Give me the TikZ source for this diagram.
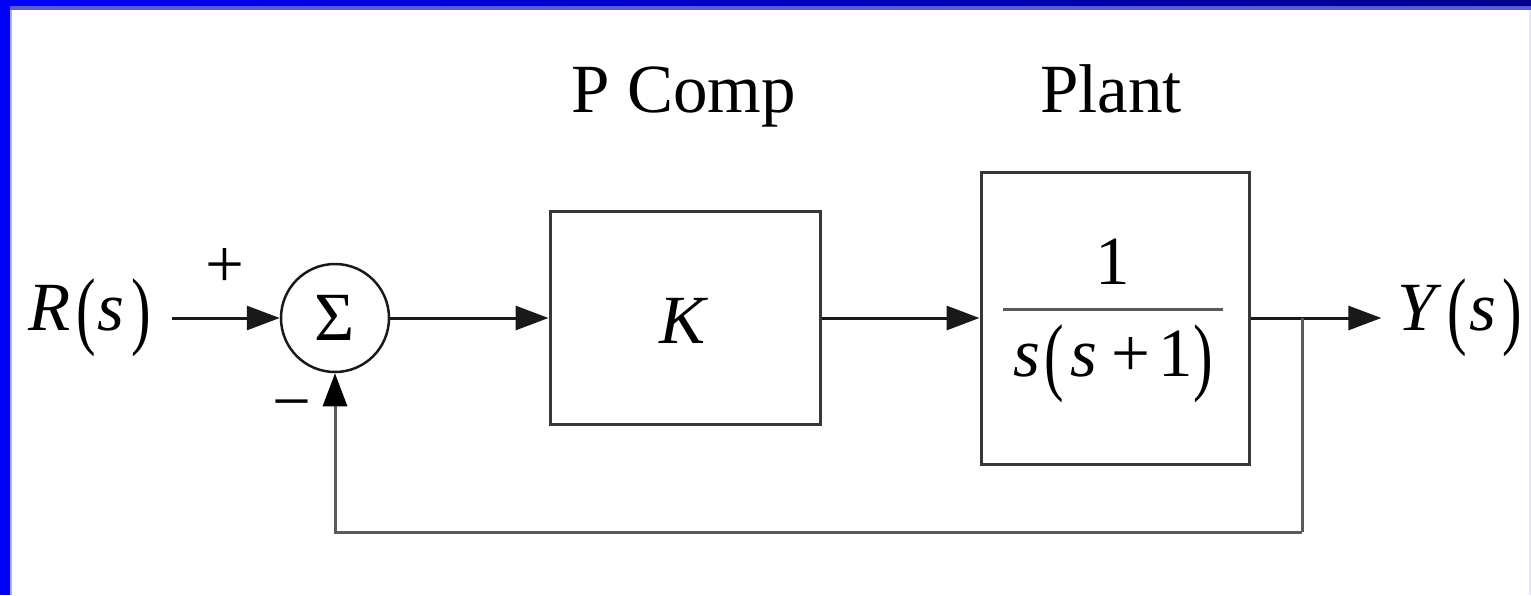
\documentclass[tikz,border=0pt]{standalone}
\usepackage{fontspec}
\setmainfont{Liberation Serif}
\usetikzlibrary{arrows.meta}
\definecolor{lineblk}{RGB}{25,25,25}
\definecolor{boxgray}{RGB}{55,55,55}
\definecolor{fbgray}{RGB}{90,90,90}
\definecolor{bandblue}{RGB}{0,0,245}
\definecolor{banddark}{RGB}{0,0,140}
\definecolor{bandmid}{RGB}{90,90,215}
\definecolor{bandlight}{RGB}{170,170,255}
\definecolor{bandpale}{RGB}{228,228,250}
\newcommand{\bigp}[1]{\raisebox{-0.12em}{\scalebox{0.85}[1.25]{#1}}}
\begin{document}
\begin{tikzpicture}[x=1pt,y=-1pt,
  txt/.style={font=\fontsize{69}{80}\selectfont, inner sep=0pt},
  blockbox/.style={draw=boxgray, line width=3pt, fill=white, inner sep=0pt},
  sumnode/.style={draw=lineblk, circle, line width=2.5pt, minimum size=108pt, inner sep=0pt, font=\fontsize{69}{80}\selectfont},
  arr/.style={draw=lineblk, line width=3pt, -{Triangle[length=33pt,width=24pt]}},
  fbline/.style={draw=fbgray, line width=3pt},
  fbarr/.style={draw=fbgray, line width=3pt, -{Triangle[length=33pt,width=24pt,color=black]}}
]
% background and frame
\useasboundingbox (0,0) rectangle (1531,595);
\fill[bandblue] (0,0) rectangle (1531,595);
\shade[left color=bandblue, right color=banddark] (0,0) rectangle (1531,6);
\fill[white] (12,10) rectangle (1529,595);
\fill[bandmid] (10,6) rectangle (1531,10);
\fill[bandlight] (10,10) rectangle (12,595);
\fill[bandpale] (1529,10) rectangle (1531,595);

% labels above blocks
\node[txt, anchor=base] (lblp) at (684,112) {P Comp};
\node[txt, anchor=base] (lblplant) at (1111,112) {Plant};

% nodes
\node[txt, anchor=center] (R) at (90,318) {\textit{R}\kern0.08em\bigp{(}\kern0.03em\textit{s}\kern0.1em\bigp{)}};
\node[sumnode] (sum) at (335,318) {\raisebox{-0.05em}{Σ}};
\node[blockbox, minimum width=270pt, minimum height=213pt] (K) at (685,318) {};
\node[txt] (Ktxt) at (684,321) {\textit{K}};
\node[blockbox, minimum width=268pt, minimum height=292pt] (plant) at (1115,318) {};
\node[txt] (num) at (1113,262) {1};
\node[txt] (den) at (1113,364) {\textit{s}\kern0.06em\bigp{(}\kern0.1em\textit{s}\kern0.2em+\kern0.12em1\bigp{)}};
\coordinate (barL) at (1003,309);
\coordinate (barR) at (1223,309);
\node[txt, anchor=center] (Y) at (1460,318) {\textit{Y}\kern0.08em\bigp{(}\kern0.03em\textit{s}\kern0.1em\bigp{)}};
\node[txt] (plus) at (225,268) {+};
\node[txt] (minus) at (292,412) {−};
\coordinate (br) at (1302,318);
\coordinate (bot) at (1302,532);

% fraction bar
\draw[draw=fbgray, line width=3pt] (barL) -- (barR);

% connectors
\draw[arr, shorten <=21pt] (R.east) -- (sum.west);
\draw[arr] (sum.east) -- (K.west);
\draw[arr] (K.east) -- (plant.west);
\draw[arr, shorten >=16pt] (plant.east) -- (Y.west);
\draw[fbline] (br) -- (bot);
\draw[fbarr] (bot) -| (sum.south);
\end{tikzpicture}
\end{document}
